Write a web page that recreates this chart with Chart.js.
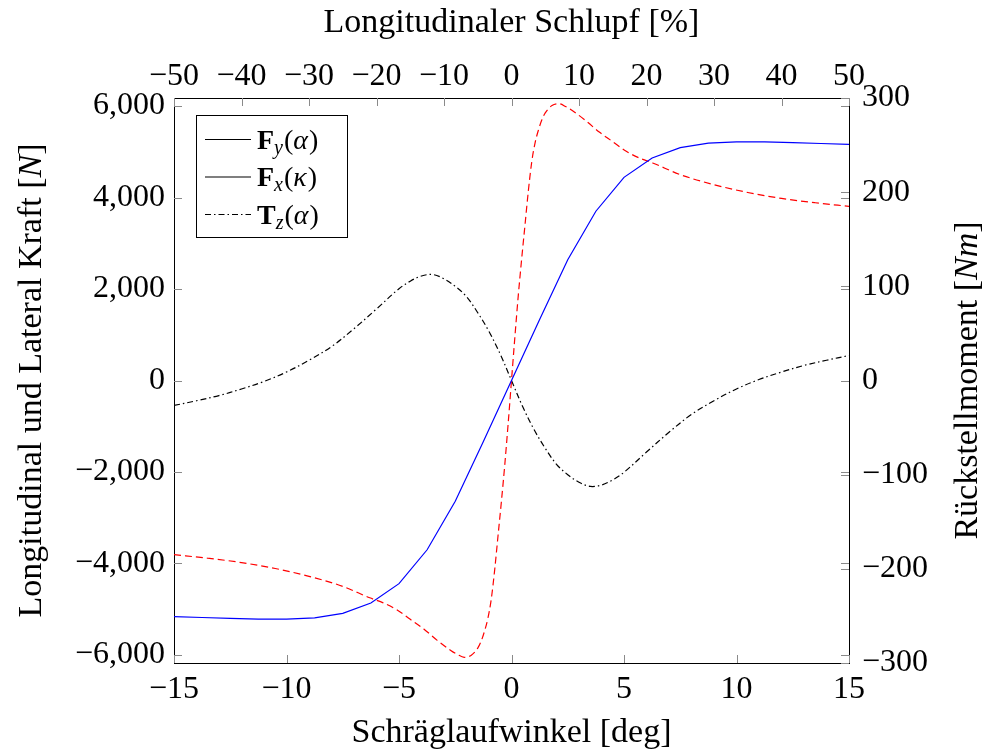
<!DOCTYPE html>
<html>
<head>
<meta charset="utf-8">
<script src="https://cdn.jsdelivr.net/npm/chart.js@4.4.0/dist/chart.umd.min.js"></script>
<style>
  html, body { margin: 0; padding: 0; background: #fff; }
</style>
</head>
<body>
<canvas id="tyreChart" width="987" height="754"></canvas>
<script>
// Fy(alpha) - Seitenkraft ueber Schraeglaufwinkel
const alphaFy = [-15, -13.75, -12.5, -11.25, -10, -8.75, -7.5, -6.25, -5, -3.75, -2.5, -1.25, 0,
                 1.25, 2.5, 3.75, 5, 6.25, 7.5, 8.75, 10, 11.25, 12.5, 13.75, 15];
const fyValues = [-5160, -5180, -5200, -5215, -5215, -5190, -5090, -4865, -4440, -3700, -2640, -1335, 0,
                  1335, 2640, 3700, 4440, 4865, 5090, 5190, 5215, 5215, 5200, 5180, 5160];

// Fx(kappa) - Laengskraft ueber Schlupf [%]
const kappa = [-50, -45, -40, -35, -30, -25, -21, -19, -17, -15, -13, -11, -9, -8, -7, -6, -5, -4.5, -4, -3.5, -3, -2.5, -2, -1.5, -1, -0.5, 0,
               0.5, 1, 1.5, 2, 2.5, 3, 3.5, 4, 4.5, 5, 6, 7, 8, 9, 11, 13, 15, 17, 19, 21, 25, 30, 35, 40, 45, 50];
const fxValues = [-3806, -3885, -3980, -4110, -4280, -4500, -4750, -4860, -5010, -5220, -5430, -5680, -5900, -5990, -6050, -6010, -5850, -5700, -5480, -5200, -4780, -4150, -3400, -2650, -1850, -950, 0,
                  950, 1850, 2650, 3400, 4150, 4780, 5200, 5480, 5700, 5850, 6010, 6050, 5990, 5900, 5680, 5430, 5220, 5010, 4860, 4750, 4500, 4280, 4110, 3980, 3885, 3806];

// Tz(alpha) - Rueckstellmoment [Nm]
const alphaTz = [-15, -14, -13, -12, -11, -10, -9, -8, -7, -6, -5, -4.5, -4, -3.5, -3, -2.5, -2, -1.5, -1, -0.5, 0,
                 0.5, 1, 1.5, 2, 2.5, 3, 3.5, 4, 4.5, 5, 6, 7, 8, 9, 10, 11, 12, 13, 14, 15];
const tzValues = [-26.5, -21.5, -16, -9, -1, 9, 21.5, 36, 55, 76, 97.5, 105.5, 111, 112.5, 108, 100, 89, 72, 52, 28, 0,
                  -28, -52, -72, -89, -100, -108, -112.5, -111, -105.5, -97.5, -76, -55, -36, -21.5, -9, 1, 9, 16, 21.5, 26.5];

const leftTicks = [-6000, -4000, -2000, 0, 2000, 4000, 6000];

const serif = "'Liberation Serif', 'DejaVu Serif', serif";
const tickFont = { family: serif, size: 32 };
const titleFont = { family: serif, size: 34 };

function fmt(v) {
  const s = Math.abs(v).toLocaleString('en-US');
  return v < 0 ? '\u2212' + s : s;
}

function toPoints(xs, ys) {
  return xs.map((x, i) => ({ x: x, y: ys[i] }));
}

// Text mit kursivem Einheitenteil, um -90 Grad gedreht
function drawRotatedTitle(ctx, cx, cy, parts) {
  ctx.save();
  ctx.translate(cx, cy);
  ctx.rotate(-Math.PI / 2);
  ctx.textBaseline = 'middle';
  ctx.textAlign = 'left';
  ctx.fillStyle = '#000';
  const widths = parts.map(p => {
    ctx.font = (p.italic ? 'italic ' : '') + titleFont.size + 'px ' + serif;
    return ctx.measureText(p.text).width;
  });
  let x = -widths.reduce((s, w) => s + w, 0) / 2;
  parts.forEach((p, i) => {
    ctx.font = (p.italic ? 'italic ' : '') + titleFont.size + 'px ' + serif;
    ctx.fillText(p.text, x, 0);
    x += widths[i];
  });
  ctx.restore();
}

// kleine Striche nach innen, wie bei pgfplots
const innerTicks = {
  id: 'innerTicks',
  afterDatasetsDraw(chart) {
    const ctx = chart.ctx;
    const a = chart.chartArea;
    const len = 8;
    ctx.save();
    ctx.strokeStyle = '#8a8a8a';
    ctx.lineWidth = 1;
    ctx.beginPath();
    chart.scales.x.ticks.forEach(t => {
      const px = Math.round(chart.scales.x.getPixelForValue(t.value)) + 0.5;
      ctx.moveTo(px, a.bottom); ctx.lineTo(px, a.bottom - len);
    });
    chart.scales.x2.ticks.forEach(t => {
      const px = Math.round(chart.scales.x2.getPixelForValue(t.value)) + 0.5;
      ctx.moveTo(px, a.top); ctx.lineTo(px, a.top + len);
    });
    chart.scales.y.ticks.forEach(t => {
      const py = Math.round(chart.scales.y.getPixelForValue(t.value)) + 0.5;
      ctx.moveTo(a.left, py); ctx.lineTo(a.left + len, py);
      ctx.moveTo(a.right, py); ctx.lineTo(a.right - len, py);
    });
    chart.scales.y2.ticks.forEach(t => {
      const py = Math.round(chart.scales.y2.getPixelForValue(t.value)) + 0.5;
      ctx.moveTo(a.right, py); ctx.lineTo(a.right - len, py);
    });
    ctx.stroke();
    ctx.restore();
  }
};

// Legende mit Formelsatz und Titel der y-Achsen
const legendBox = {
  id: 'legendBox',
  afterDraw(chart) {
    const ctx = chart.ctx;
    const a = chart.chartArea;
    const bx = a.left + 22, by = a.top + 17, bw = 151, bh = 122;
    ctx.save();
    ctx.fillStyle = '#fff';
    ctx.fillRect(bx, by, bw, bh);
    ctx.strokeStyle = '#000';
    ctx.lineWidth = 1;
    ctx.strokeRect(bx + 0.5, by + 0.5, bw, bh);

    const entries = [
      { main: 'F', sub: 'y', arg: '\u03B1', dash: [] },
      { main: 'F', sub: 'x', arg: '\u03BA', dash: [] },
      { main: 'T', sub: 'z', arg: '\u03B1', dash: [6, 3, 1.5, 3] }
    ];
    entries.forEach((e, i) => {
      const cy = by + 24.5 + i * 37.5;
      ctx.setLineDash(e.dash);
      ctx.lineWidth = 1.1;
      ctx.beginPath();
      ctx.moveTo(bx + 9, cy); ctx.lineTo(bx + 55, cy);
      ctx.stroke();
      ctx.setLineDash([]);
      ctx.fillStyle = '#000';
      ctx.textBaseline = 'alphabetic';
      let x = bx + 61;
      const base = cy + 9;
      ctx.font = 'bold 28px ' + serif;
      ctx.fillText(e.main, x, base);
      x += ctx.measureText(e.main).width;
      ctx.font = 'italic 20px ' + serif;
      ctx.fillText(e.sub, x, base + 5);
      x += ctx.measureText(e.sub).width + 1;
      ctx.font = '28px ' + serif;
      ctx.fillText('(', x, base);
      x += ctx.measureText('(').width;
      ctx.font = 'italic 28px ' + serif;
      ctx.fillText(e.arg, x, base);
      x += ctx.measureText(e.arg).width + 1;
      ctx.font = '28px ' + serif;
      ctx.fillText(')', x, base);
    });
    ctx.restore();

    const midY = (a.top + a.bottom) / 2;
    drawRotatedTitle(ctx, 32, midY, [
      { text: 'Longitudinal und Lateral Kraft [' }, { text: 'N', italic: true }, { text: ']' }
    ]);
    drawRotatedTitle(ctx, 968, midY, [
      { text: 'R\u00FCckstellmoment [' }, { text: 'Nm', italic: true }, { text: ']' }
    ]);
  }
};

const chart = new Chart(document.getElementById('tyreChart'), {
  type: 'line',
  data: {
    datasets: [
      {
        label: 'Fy(\u03B1)',
        data: toPoints(alphaFy, fyValues),
        xAxisID: 'x', yAxisID: 'y',
        borderColor: '#0000ff', borderWidth: 1.2,
        pointRadius: 0, tension: 0, fill: false
      },
      {
        label: 'Fx(\u03BA)',
        data: toPoints(kappa, fxValues),
        xAxisID: 'x2', yAxisID: 'y',
        borderColor: '#ff0000', borderWidth: 1.2, borderDash: [7, 4],
        pointRadius: 0, cubicInterpolationMode: 'monotone', fill: false
      },
      {
        label: 'Tz(\u03B1)',
        data: toPoints(alphaTz, tzValues),
        xAxisID: 'x', yAxisID: 'y2',
        borderColor: '#000000', borderWidth: 1.2, borderDash: [6, 3, 1.5, 3],
        pointRadius: 0, tension: 0.35, fill: false
      }
    ]
  },
  options: {
    responsive: false,
    animation: false,
    devicePixelRatio: 1,
    layout: { padding: 0 },
    plugins: { legend: { display: false }, tooltip: { enabled: false } },
    scales: {
      x: {
        type: 'linear', position: 'bottom', min: -15, max: 15,
        ticks: { stepSize: 5, font: tickFont, color: '#000', padding: 7, maxRotation: 0, callback: v => fmt(v) },
        grid: { drawOnChartArea: false, drawTicks: false },
        border: { color: '#000', width: 1 },
        title: { display: true, text: 'Schr\u00E4glaufwinkel [deg]', font: titleFont, color: '#000', padding: { top: 0, bottom: 1 } },
        afterFit: s => { s.height = 91; }
      },
      x2: {
        type: 'linear', position: 'top', min: -50, max: 50,
        ticks: { stepSize: 10, font: tickFont, color: '#000', padding: 2, maxRotation: 0, callback: v => fmt(v) },
        grid: { drawOnChartArea: false, drawTicks: false },
        border: { color: '#000', width: 1 },
        title: { display: true, text: 'Longitudinaler Schlupf [%]', font: titleFont, color: '#000', padding: { top: 3, bottom: 0 } },
        afterFit: s => { s.height = 98; }
      },
      y: {
        type: 'linear', position: 'left', min: -6175, max: 6175,
        afterBuildTicks: s => { s.ticks = leftTicks.map(v => ({ value: v })); },
        ticks: { font: tickFont, color: '#000', padding: 9, callback: v => fmt(v) },
        grid: { drawOnChartArea: false, drawTicks: false },
        border: { color: '#000', width: 1 },
        afterFit: s => { s.width = 174; }
      },
      y2: {
        type: 'linear', position: 'right', min: -300, max: 300,
        ticks: { stepSize: 100, font: tickFont, color: '#000', padding: 13, callback: v => fmt(v) },
        grid: { drawOnChartArea: false, drawTicks: false },
        border: { color: '#000', width: 1 },
        afterFit: s => { s.width = 138; }
      }
    }
  },
  plugins: [innerTicks, legendBox]
});
</script>
</body>
</html>
